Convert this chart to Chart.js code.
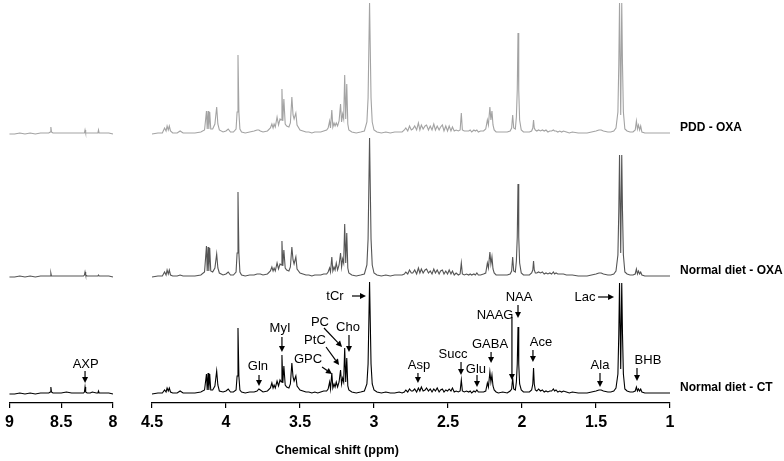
<!DOCTYPE html>
<html>
<head>
<meta charset="utf-8">
<script src="https://cdn.jsdelivr.net/npm/chart.js@4.4.0/dist/chart.umd.min.js"></script>
<style>
  html, body { margin: 0; padding: 0; background: #fff; }
  #wrap { position: relative; width: 784px; height: 461px; overflow: hidden; }
  #wrap canvas { position: absolute; left: 0; top: 0; }
  #xtitle { position: absolute; left: 237px; width: 200px; top: 443px; text-align: center;
    font: bold 12.5px "Liberation Sans", Arial, sans-serif; color: #000; }
</style>
</head>
<body>
<div id="wrap">
  <canvas id="high" width="784" height="461"></canvas>
  <canvas id="low" width="784" height="461"></canvas>
  <div id="xtitle">Chemical shift (ppm)</div>
</div>
<script>
// chemical shifts (ppm), 9 -> 8 window
const shiftsLow = [9.0, 8.95, 8.9, 8.85, 8.8, 8.75, 8.7, 8.65, 8.62, 8.606,
  8.60, 8.594, 8.58, 8.55, 8.5, 8.45, 8.4, 8.35, 8.3, 8.285,
  8.276, 8.27, 8.264, 8.25, 8.22, 8.2, 8.16, 8.146, 8.14, 8.134,
  8.12, 8.08, 8.04, 8.0]
const ctLow  = [0,0,1,0,1,0,1,1,1,2, 7,2,1,1,1,2,1,1,1,1, 2,7,2,1,1,2,1,1,3,1, 1,1,1,0]
const oxaLow = [0,0,1,0,1,0,1,1,1,1, 4,1,1,1,1,1,1,1,1,1, 2,5,2,1,1,1,1,1,2,1, 1,1,1,0]
const pddLow = [0,0,1,0,1,0,1,1,1,2, 7,2,1,1,1,1,1,1,1,1, 1,4,1,1,1,1,1,1,4,1, 1,1,1,0]

// chemical shifts (ppm), 4.5 -> 1 window
const shiftsHigh = [
  4.50, 4.46, 4.43, 4.415, 4.405, 4.398, 4.39, 4.383, 4.375, 4.36,
  4.33, 4.31, 4.29, 4.25, 4.21, 4.17, 4.145, 4.132, 4.127, 4.121,
  4.116, 4.11, 4.103, 4.09, 4.075, 4.063, 4.055, 4.045, 4.02, 4.0,
  3.985, 3.97, 3.95, 3.932, 3.925, 3.919, 3.913, 3.906, 3.895, 3.87,
  3.84, 3.81, 3.79, 3.778, 3.768, 3.75, 3.72, 3.70, 3.69, 3.682,
  3.675, 3.667, 3.655, 3.645, 3.635, 3.627, 3.622, 3.616, 3.609, 3.60,
  3.59, 3.575, 3.565, 3.555, 3.547, 3.54, 3.528, 3.52, 3.50, 3.48,
  3.46, 3.44, 3.42, 3.40, 3.38, 3.36, 3.34, 3.32, 3.31, 3.30,
  3.294, 3.285, 3.278, 3.27, 3.263, 3.255, 3.246, 3.236, 3.226, 3.219,
  3.212, 3.205, 3.198, 3.191, 3.184, 3.177, 3.17, 3.15, 3.12, 3.09,
  3.065, 3.048, 3.04, 3.03, 3.02, 3.012, 3.0, 2.98, 2.95, 2.92,
  2.89, 2.86, 2.83, 2.81, 2.795, 2.785, 2.772, 2.76, 2.748, 2.738,
  2.725, 2.712, 2.70, 2.69, 2.68, 2.668, 2.655, 2.645, 2.632, 2.62,
  2.608, 2.596, 2.585, 2.573, 2.56, 2.55, 2.538, 2.527, 2.515, 2.503,
  2.492, 2.48, 2.47, 2.458,
  2.445, 2.43, 2.418, 2.41, 2.403, 2.39, 2.375, 2.36, 2.35, 2.34,
  2.325, 2.315, 2.305, 2.295, 2.28, 2.26, 2.245, 2.234, 2.227, 2.217,
  2.21, 2.203, 2.196, 2.188, 2.175, 2.16, 2.13, 2.10, 2.08, 2.07,
  2.063, 2.056, 2.045, 2.038, 2.032, 2.027, 2.022, 2.016, 2.005, 1.99,
  1.97, 1.95, 1.935, 1.927, 1.922, 1.917, 1.91,
  1.90, 1.888, 1.875, 1.862, 1.85, 1.838, 1.825, 1.812, 1.80, 1.788,
  1.78, 1.77, 1.758, 1.745, 1.732, 1.72, 1.70, 1.68, 1.66,
  1.62, 1.59, 1.56, 1.53, 1.50, 1.48, 1.465, 1.45, 1.42, 1.40,
  1.38, 1.365, 1.352, 1.346, 1.341, 1.333, 1.326, 1.321, 1.315, 1.305,
  1.29, 1.27, 1.25, 1.235, 1.227, 1.22, 1.213, 1.205, 1.198, 1.19,
  1.17, 1.14, 1.10, 1.06, 1.03, 1.0]

const ctHigh = [
  0,1,1,4,2,6,3,6,2,1,
  1,3,1,1,1,2,4,20,4,21,
  4,20,4,4,8,23,9,3,2,3,
  5,2,2,4,18,66,18,4,2,1,
  2,2,3,5,4,2,3,6,11,6,
  9,6,13,8,14,12,39,11,28,9,
  7,6,10,31,17,13,18,8,4,3,
  2,2,1,2,1,2,3,3,5,12,
  5,21,6,10,7,12,7,12,24,10,
  16,12,46,12,36,8,4,2,1,2,
  3,10,30,112,30,10,4,2,1,2,
  1,1,2,1,2,4,2,5,3,3,
  5,2,6,3,7,3,4,6,3,5,
  2,5,3,6,2,4,5,2,4,3,
  5,3,6,2,
  3,2,3,14,3,2,3,2,3,1,
  3,2,4,2,2,2,3,11,7,22,
  12,19,8,4,2,1,2,1,3,5,
  16,5,4,12,30,67,30,10,4,2,
  2,2,4,10,26,10,4,
  3,5,3,4,2,3,2,3,3,5,
  3,4,2,3,2,3,2,1,2,
  1,1,1,2,3,4,4,3,2,2,
  3,6,20,60,111,25,111,60,20,5,
  3,2,2,3,7,3,5,3,5,2,
  1,1,1,1,1,1]

const oxaHigh = [
  0,1,1,5,2,7,3,7,2,1,
  1,2,1,1,1,2,5,31,6,30,
  6,29,6,5,9,23,9,4,2,3,
  5,2,2,5,24,85,24,5,2,1,
  2,2,3,3,3,2,3,6,10,6,
  9,6,14,8,13,12,36,11,27,9,
  7,6,10,30,17,13,20,8,4,3,
  2,2,1,2,2,2,3,3,5,9,
  5,20,6,10,7,14,7,12,24,10,
  18,14,53,14,44,9,4,2,1,2,
  3,12,38,139,38,12,4,2,1,2,
  1,2,2,2,3,5,3,7,4,4,
  7,3,9,4,8,4,7,8,4,6,
  3,8,4,7,3,6,7,3,6,3,
  7,3,6,2,
  4,2,3,14,3,2,3,2,3,2,
  3,2,4,2,2,3,4,14,9,25,
  13,20,8,4,2,2,2,2,3,6,
  20,6,5,16,40,93,40,14,4,2,
  2,2,4,7,16,7,4,
  4,5,4,5,3,4,3,4,3,5,
  3,4,3,3,3,3,2,2,2,
  1,1,1,2,3,4,4,3,2,2,
  3,6,22,66,122,24,122,66,22,5,
  3,2,2,3,8,3,6,3,5,2,
  1,1,1,1,1,1]

const pddHigh = [
  0,1,1,6,3,8,4,8,3,1,
  1,3,1,1,1,2,4,23,5,23,
  5,22,5,5,10,27,10,4,2,3,
  5,2,2,5,22,79,22,5,2,1,
  2,3,4,4,3,2,3,6,10,6,
  10,7,17,9,15,14,45,13,35,10,
  8,7,11,37,19,15,21,9,4,3,
  2,2,1,2,2,2,3,4,6,13,
  6,24,7,11,8,11,8,13,30,12,
  20,15,59,15,50,10,4,2,1,2,
  3,12,36,131,36,12,4,2,1,2,
  1,2,2,2,4,6,3,8,4,5,
  8,4,11,4,9,5,8,9,4,8,
  4,10,4,8,4,7,9,3,8,3,
  8,3,7,3,
  4,3,4,21,4,3,3,3,4,2,
  4,3,4,2,3,3,5,14,9,27,
  14,23,9,4,2,2,2,2,3,6,
  19,6,5,17,44,101,44,14,4,2,
  2,2,3,6,14,6,4,
  3,4,3,4,3,4,2,3,3,4,
  3,3,2,3,2,3,2,1,2,
  1,1,1,2,3,4,4,3,2,2,
  3,6,22,70,131,19,131,70,22,5,
  3,2,2,4,13,5,9,4,8,2,
  1,1,1,1,1,1]

const seriesNames = ['Normal diet - CT', 'Normal diet - OXA', 'PDD - OXA']

// metabolite labels: text at [ppm, level], arrow from -> to (ppm, level), on the CT trace
const labelsHigh = [
  { text: 'Gln',  at: [3.784, 28], from: [3.777, 19], to: [3.777, 8] },
  { text: 'MyI',  at: [3.635, 66], from: [3.622, 57], to: [3.622, 42] },
  { text: 'GPC',  at: [3.446, 35], from: [3.351, 27], to: [3.284, 20] },
  { text: 'PtC',  at: [3.399, 54], from: [3.324, 47], to: [3.236, 29] },
  { text: 'PC',   at: [3.365, 72], from: [3.338, 66], to: [3.216, 47] },
  { text: 'Cho',  at: [3.176, 67], from: [3.169, 59], to: [3.169, 42] },
  { text: 'tCr',  at: [3.264, 98], from: [3.149, 98], to: [3.054, 98] },
  { text: 'Asp',  at: [2.696, 29], from: [2.703, 21], to: [2.703, 11] },
  { text: 'Succ', at: [2.466, 40], from: [2.412, 32], to: [2.412, 19] },
  { text: 'Glu',  at: [2.311, 25], from: [2.304, 19], to: [2.304, 7] },
  { text: 'GABA', at: [2.216, 50], from: [2.209, 42], to: [2.209, 31] },
  { text: 'NAAG', at: [2.182, 79], from: [2.068, 77], to: [2.068, 14] },
  { text: 'NAA',  at: [2.020, 97], from: [2.027, 89], to: [2.027, 76] },
  { text: 'Ace',  at: [1.872, 52], from: [1.926, 44], to: [1.926, 32] },
  { text: 'Ala',  at: [1.473, 29], from: [1.473, 21], to: [1.473, 7] },
  { text: 'Lac',  at: [1.574, 97], from: [1.486, 97], to: [1.378, 97] },
  { text: 'BHB',  at: [1.149, 34], from: [1.223, 26], to: [1.223, 13] }
]
const labelsLow = [
  { text: 'AXP', at: [8.264, 30], from: [8.27, 23], to: [8.27, 11] }
]

const offsets = [0, 117, 260]
const colors = ['#000000', '#555555', '#a3a3a3']
const FONT = '"Liberation Sans", Arial, sans-serif'

function buildSets(shifts, lists) {
  return lists.map((vals, k) => ({
    label: seriesNames[k],
    data: shifts.map((x, i) => ({ x: x, y: vals[i] + offsets[k] })),
    borderColor: colors[k],
    borderWidth: 1.1,
    pointRadius: 0,
    tension: 0,
    fill: false,
    clip: false
  })).reverse()
}

function arrow(ctx, x1, y1, x2, y2) {
  const a = Math.atan2(y2 - y1, x2 - x1)
  const L = 6, W = 3
  const bx = x2 - L * Math.cos(a), by = y2 - L * Math.sin(a)
  ctx.beginPath()
  ctx.moveTo(x1, y1)
  ctx.lineTo(bx, by)
  ctx.stroke()
  ctx.beginPath()
  ctx.moveTo(x2, y2)
  ctx.lineTo(bx + W * Math.sin(a), by - W * Math.cos(a))
  ctx.lineTo(bx - W * Math.sin(a), by + W * Math.cos(a))
  ctx.closePath()
  ctx.fill()
}

const labelPlugin = {
  id: 'peakLabels',
  afterDatasetsDraw(chart, args, opts) {
    const ctx = chart.ctx, xs = chart.scales.x, ys = chart.scales.y
    ctx.save()
    ctx.strokeStyle = '#000'
    ctx.fillStyle = '#000'
    ctx.lineWidth = 1.2
    ctx.font = '13px ' + FONT
    ctx.textAlign = 'center'
    ctx.textBaseline = 'middle'
    opts.items.forEach(it => {
      ctx.fillText(it.text, xs.getPixelForValue(it.at[0]), ys.getPixelForValue(it.at[1]))
      arrow(ctx, xs.getPixelForValue(it.from[0]), ys.getPixelForValue(it.from[1]),
        xs.getPixelForValue(it.to[0]), ys.getPixelForValue(it.to[1]))
    })
    if (opts.names) {
      ctx.font = 'bold 12px ' + FONT
      ctx.textAlign = 'left'
      seriesNames.forEach((n, k) => {
        ctx.fillText(n, chart.chartArea.right + 10, ys.getPixelForValue(offsets[k] + 6))
      })
    }
    ctx.restore()
  }
}

function makeChart(id, shifts, lists, min, max, padL, padR, items, names) {
  return new Chart(document.getElementById(id), {
    type: 'line',
    data: { datasets: buildSets(shifts, lists) },
    options: {
      responsive: false,
      animation: false,
      events: [],
      layout: { padding: { left: padL, right: padR, top: 0, bottom: 0 } },
      plugins: { legend: { display: false }, tooltip: { enabled: false },
        peakLabels: { items: items, names: names } },
      scales: {
        x: {
          type: 'linear', reverse: true, min: min, max: max,
          afterFit: s => { s.height = 58 },
          grid: { display: true, drawOnChartArea: false, drawTicks: true, tickLength: 5, color: '#000', lineWidth: 1.2 },
          border: { display: true, color: '#000', width: 1.3 },
          ticks: { stepSize: 0.5, color: '#000', padding: 5, maxRotation: 0,
            callback: v => String(Math.round(v * 10) / 10),
            font: { family: FONT, size: 16, weight: 'bold' } }
        },
        y: { display: false, min: -9, max: 394 }
      }
    },
    plugins: [labelPlugin]
  })
}

makeChart('high', shiftsHigh, [ctHigh, oxaHigh, pddHigh], 1, 4.5, 152, 114, labelsHigh, true)
makeChart('low', shiftsLow, [ctLow, oxaLow, pddLow], 8, 9, 7, 671, labelsLow, false)
</script>
</body>
</html>
